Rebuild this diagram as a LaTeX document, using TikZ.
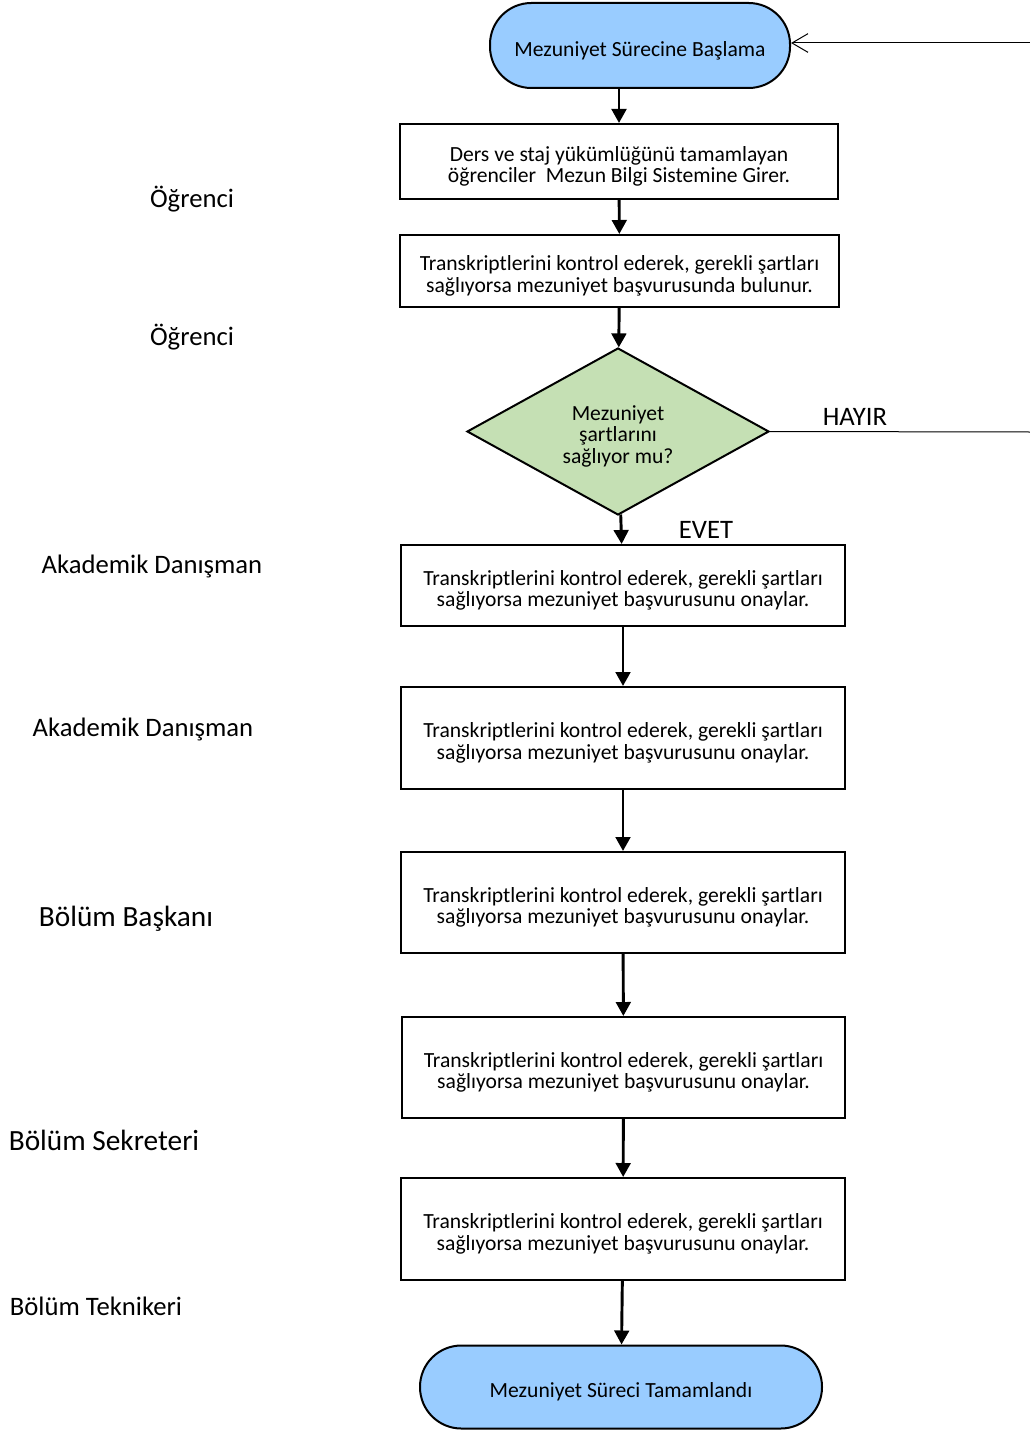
\documentclass[tikz,border=0pt]{standalone}
\usepackage{fontspec}
\setmainfont{Carlito}
\usetikzlibrary{shapes.geometric,arrows.meta}

\definecolor{renk_mavi}{RGB}{153,204,255}
\definecolor{renk_yesil}{RGB}{197,224,180}
\newcommand{\ustboy}{\rule{0pt}{18.5pt}}

\begin{document}
\begin{tikzpicture}[x=0.75pt,y=-0.75pt]
        \tikzset{
            kutu/.style 2 args={
                draw,
                line width=1.5pt,
                align=center,
                inner sep=0pt,
                minimum width=#1,
                minimum height=#2,
                font=\fontsize{16.2}{16}\selectfont
            },
            uc/.style 2 args={
                kutu={#1}{#2},
                fill=renk_mavi,
                rounded corners=31pt
            },
            karar/.style={
                draw,
                diamond,
                aspect=1.8,
                line width=1.5pt,
                fill=renk_yesil,
                align=center,
                inner sep=0pt,
                minimum width=226.5pt,
                minimum height=125.25pt,
                font=\fontsize{16.2}{16}\selectfont
            },
            rol/.style={font=\fontsize{20}{24}\selectfont},
            rolb/.style={font=\fontsize{22}{26}\selectfont},
            ok/.style={line width=2.2pt, -{Triangle[length=10.5pt,width=11pt]}},
            ince/.style={line width=0.75pt}
        }
        \useasboundingbox (0,0) rectangle (1030,1430);

        % AKIS KUTULARI
        \node[uc={225pt}{63.75pt}] (start) at (640,45.5) {\ustboy Mezuniyet Sürecine Başlama};
        \node[kutu={328.5pt}{56.25pt}] (box1) at (619,161.5)
            {\ustboy Ders ve staj yükümlüğünü tamamlayan\\öğrenciler\ \ Mezun Bilgi Sistemine Girer.};
        \node[kutu={329.25pt}{54pt}] (box2) at (619.5,271)
            {\ustboy Transkriptlerini kontrol ederek, gerekli şartları\\sağlıyorsa mezuniyet başvurusunda bulunur.};
        \node[karar] (dec) at (618,431.5) {\ustboy Mezuniyet\\şartlarını\\sağlıyor mu?};
        \node[kutu={333pt}{60.75pt}] (box3) at (623,585.5)
            {\ustboy Transkriptlerini kontrol ederek, gerekli şartları\\sağlıyorsa mezuniyet başvurusunu onaylar.};
        \node[kutu={333pt}{76.5pt}] (box4) at (623,738)
            {\ustboy Transkriptlerini kontrol ederek, gerekli şartları\\sağlıyorsa mezuniyet başvurusunu onaylar.};
        \node[kutu={333pt}{75.75pt}] (box5) at (623,902.5)
            {\ustboy Transkriptlerini kontrol ederek, gerekli şartları\\sağlıyorsa mezuniyet başvurusunu onaylar.};
        \node[kutu={332.25pt}{75.75pt}] (box6) at (623.5,1067.5)
            {\ustboy Transkriptlerini kontrol ederek, gerekli şartları\\sağlıyorsa mezuniyet başvurusunu onaylar.};
        \node[kutu={333pt}{76.5pt}] (box7) at (623,1229)
            {\ustboy Transkriptlerini kontrol ederek, gerekli şartları\\sağlıyorsa mezuniyet başvurusunu onaylar.};
        \node[uc={301.5pt}{62.25pt}] (end) at (621,1387) {\ustboy Mezuniyet Süreci Tamamlandı};

        % ROLLER
        \node[rol] (ogr1) at (192,199) {Öğrenci};
        \node[rol] (ogr2) at (192,337) {Öğrenci};
        \node[rol] (dan1) at (152,566) {Akademik Danışman};
        \node[rol] (dan2) at (143,729) {Akademik Danışman};
        \node[rolb] (bsk) at (126,919) {Bölüm Başkanı};
        \node[rolb] (sek) at (104,1140) {Bölüm Sekreteri};
        \node[rol] (tek) at (96,1306) {Bölüm Teknikeri};

        % OKLAR
        \draw[ok] (start.south -| box1) -- (box1);
        \foreach \a/\b in {box1/box2, box2/dec, dec/box3, box3/box4, box4/box5, box5/box6, box6/box7, box7/end} {
            \draw[ok] (\a) -- (\b);
        }
        \node[rol] (evet) at (706,530) {EVET};

        % HAYIR DONUSU
        \coordinate (sag_alt) at (1030,432);
        \coordinate (sag_ust) at (1030,43);
        \draw[ince] (dec.east) -- (sag_alt);
        \node[rol] (hayir) at (855,417) {HAYIR};
        \draw[ince, -{Straight Barb[length=12pt,width=14pt]}] (sag_ust) -- (sag_ust -| start.east);

\end{tikzpicture}
\end{document}
